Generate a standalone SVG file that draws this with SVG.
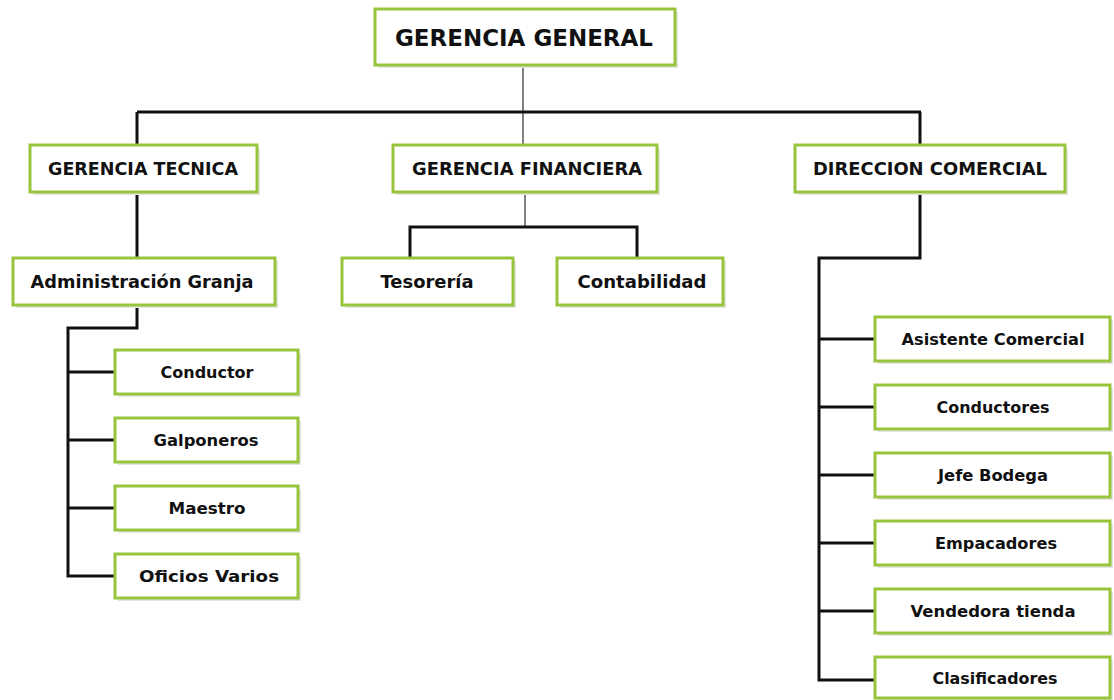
<svg xmlns="http://www.w3.org/2000/svg" width="1114" height="700" viewBox="0 0 1114 700">
<style>
.box{fill:#fff;stroke:#98c43c;stroke-width:3}
.sh{fill:#e4e4e4}
.t{font-family:"DejaVu Sans",Verdana,sans-serif;font-weight:bold;fill:#111;text-anchor:middle}
.h{font-size:17.5px}
.c{font-size:16px}
.k{fill:none;stroke:#111;stroke-width:3}
.g{fill:none;stroke:#808080;stroke-width:2}
</style>
<rect width="1114" height="700" fill="#fff"/>
<g id="connectors">
<path class="g" d="M523,65 V145"/>
<path class="k" d="M137,112 H921"/>
<path class="k" d="M137,112 V145 M920,112 V145"/>
<path class="k" d="M137,192 V258"/>
<path class="k" d="M137,305 V328 H68 V576 H115 M68,372 H115 M68,440 H115 M68,508 H115"/>
<path class="g" d="M525,192 V227"/>
<path class="k" d="M410,258 V227 H637 V258"/>
<path class="k" d="M920,192 V258 H819 V680 H875 M819,339 H875 M819,407 H875 M819,475 H875 M819,543 H875 M819,611 H875"/>
</g>
<g id="n-gerencia-general">
<rect class="sh" x="378" y="12" width="300" height="56"/>
<rect class="box" x="375" y="9" width="300" height="56"/>
<text class="t" x="524" y="46" font-size="23.5" textLength="258" lengthAdjust="spacingAndGlyphs">GERENCIA GENERAL</text>
</g>
<g id="n-gerencia-tecnica">
<rect class="sh" x="33" y="148" width="227" height="47"/>
<rect class="box" x="30" y="145" width="227" height="47"/>
<text class="t h" x="143" y="175" textLength="190" lengthAdjust="spacingAndGlyphs">GERENCIA TECNICA</text>
</g>
<g id="n-gerencia-financiera">
<rect class="sh" x="396" y="148" width="264" height="47"/>
<rect class="box" x="393" y="145" width="264" height="47"/>
<text class="t h" x="527" y="175" textLength="230" lengthAdjust="spacingAndGlyphs">GERENCIA FINANCIERA</text>
</g>
<g id="n-direccion-comercial">
<rect class="sh" x="798" y="148" width="270" height="47"/>
<rect class="box" x="795" y="145" width="270" height="47"/>
<text class="t h" x="930" y="175" textLength="234" lengthAdjust="spacingAndGlyphs">DIRECCION COMERCIAL</text>
</g>
<g id="n-administracion-granja">
<rect class="sh" x="16" y="261" width="262" height="47"/>
<rect class="box" x="13" y="258" width="262" height="47"/>
<text class="t h" x="142" y="288" textLength="223" lengthAdjust="spacingAndGlyphs">Administración Granja</text>
</g>
<g id="n-tesoreria">
<rect class="sh" x="345" y="261" width="171" height="47"/>
<rect class="box" x="342" y="258" width="171" height="47"/>
<text class="t h" x="427" y="288" textLength="93" lengthAdjust="spacingAndGlyphs">Tesorería</text>
</g>
<g id="n-contabilidad">
<rect class="sh" x="560" y="261" width="166" height="47"/>
<rect class="box" x="557" y="258" width="166" height="47"/>
<text class="t h" x="642" y="288" textLength="129" lengthAdjust="spacingAndGlyphs">Contabilidad</text>
</g>
<g id="n-conductor">
<rect class="sh" x="118" y="353" width="183" height="44"/>
<rect class="box" x="115" y="350" width="183" height="44"/>
<text class="t c" x="207" y="378" textLength="93" lengthAdjust="spacingAndGlyphs">Conductor</text>
</g>
<g id="n-galponeros">
<rect class="sh" x="118" y="421" width="183" height="44"/>
<rect class="box" x="115" y="418" width="183" height="44"/>
<text class="t c" x="206" y="446" textLength="105" lengthAdjust="spacingAndGlyphs">Galponeros</text>
</g>
<g id="n-maestro">
<rect class="sh" x="118" y="489" width="183" height="44"/>
<rect class="box" x="115" y="486" width="183" height="44"/>
<text class="t c" x="207" y="514" textLength="77" lengthAdjust="spacingAndGlyphs">Maestro</text>
</g>
<g id="n-oficios-varios">
<rect class="sh" x="118" y="557" width="183" height="44"/>
<rect class="box" x="115" y="554" width="183" height="44"/>
<text class="t c" x="209" y="582" textLength="140" lengthAdjust="spacingAndGlyphs">Oficios Varios</text>
</g>
<g id="n-asistente-comercial">
<rect class="sh" x="878" y="320" width="235" height="44"/>
<rect class="box" x="875" y="317" width="235" height="44"/>
<text class="t c" x="993" y="345" textLength="183" lengthAdjust="spacingAndGlyphs">Asistente Comercial</text>
</g>
<g id="n-conductores">
<rect class="sh" x="878" y="388" width="235" height="44"/>
<rect class="box" x="875" y="385" width="235" height="44"/>
<text class="t c" x="993" y="413" textLength="113" lengthAdjust="spacingAndGlyphs">Conductores</text>
</g>
<g id="n-jefe-bodega">
<rect class="sh" x="878" y="456" width="235" height="44"/>
<rect class="box" x="875" y="453" width="235" height="44"/>
<text class="t c" x="993" y="481" textLength="110" lengthAdjust="spacingAndGlyphs">Jefe Bodega</text>
</g>
<g id="n-empacadores">
<rect class="sh" x="878" y="524" width="235" height="44"/>
<rect class="box" x="875" y="521" width="235" height="44"/>
<text class="t c" x="996" y="549" textLength="122" lengthAdjust="spacingAndGlyphs">Empacadores</text>
</g>
<g id="n-vendedora-tienda">
<rect class="sh" x="878" y="592" width="235" height="44"/>
<rect class="box" x="875" y="589" width="235" height="44"/>
<text class="t c" x="993" y="617" textLength="165" lengthAdjust="spacingAndGlyphs">Vendedora tienda</text>
</g>
<g id="n-clasificadores">
<rect class="sh" x="878" y="660" width="235" height="44"/>
<rect class="box" x="875" y="657" width="235" height="41"/>
<text class="t c" x="995" y="684" textLength="125" lengthAdjust="spacingAndGlyphs">Clasificadores</text>
</g>
</svg>
